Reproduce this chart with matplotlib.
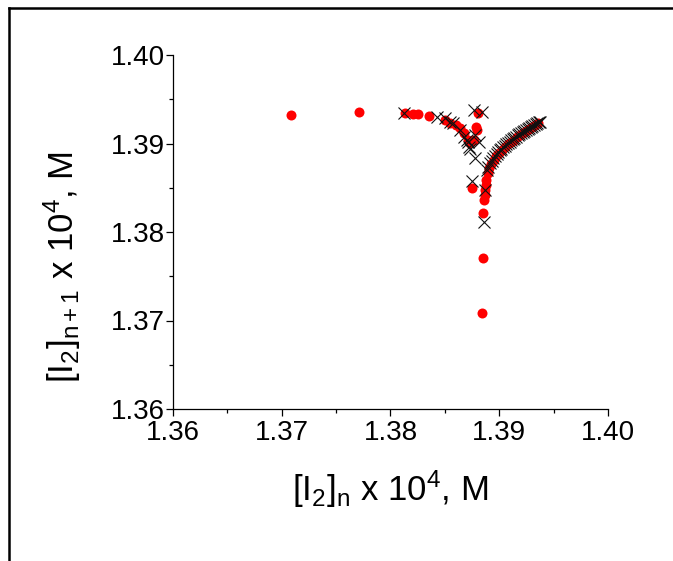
import matplotlib
matplotlib.use("Agg")
import matplotlib.pyplot as plt
from matplotlib.lines import Line2D
from matplotlib.ticker import MultipleLocator, FormatStrFormatter

plt.rcParams['font.family'] = ['Liberation Sans', 'DejaVu Sans']
plt.rcParams['mathtext.fontset'] = 'custom'
plt.rcParams['mathtext.rm'] = 'Liberation Sans'
plt.rcParams['mathtext.it'] = 'Liberation Sans'
plt.rcParams['mathtext.default'] = 'regular'

# Red series (return map points)
red_x = [1.37083, 1.37714, 1.38134, 1.38211, 1.38257, 1.38358, 1.38502, 1.38548,
         1.38603, 1.38640, 1.38680, 1.38717, 1.38732, 1.38788, 1.38809, 1.38800,
         1.38765, 1.38753, 1.38855, 1.38846, 1.38840,
         1.38862, 1.38866, 1.38870, 1.38875, 1.38880, 1.38893, 1.38907, 1.38926,
         1.38949, 1.38972, 1.38999, 1.39027, 1.39054, 1.39082, 1.39109, 1.39137,
         1.39165, 1.39192, 1.39220, 1.39247, 1.39275, 1.39303, 1.39330, 1.39358]
red_y = [1.39325, 1.39353, 1.39341, 1.39333, 1.39333, 1.39314, 1.39266, 1.39228,
         1.39209, 1.39172, 1.39115, 1.39040, 1.39002, 1.39190, 1.39341, 1.39150,
         1.39040, 1.38494, 1.38218, 1.37703, 1.37081,
         1.38362, 1.38420, 1.38475, 1.38530, 1.38588, 1.38667, 1.38723, 1.38768,
         1.38814, 1.38859, 1.38898, 1.38932, 1.38960, 1.38989, 1.39017, 1.39045,
         1.39073, 1.39096, 1.39119, 1.39141, 1.39164, 1.39186, 1.39209, 1.39232]

# Black crosses
black_x = [1.38128, 1.38426, 1.38502, 1.38549, 1.38579, 1.38641, 1.38677, 1.38703,
           1.38717, 1.38718, 1.38735, 1.38780, 1.38750, 1.38873, 1.38857, 1.38765,
           1.38842, 1.38780, 1.38811,
           1.38886, 1.38900, 1.38915, 1.38930, 1.38945, 1.38960, 1.38975, 1.38990,
           1.39005, 1.39020, 1.39035, 1.39050, 1.39065, 1.39080, 1.39095, 1.39110,
           1.39125, 1.39140, 1.39155, 1.39170, 1.39185, 1.39200, 1.39215, 1.39230,
           1.39245, 1.39260, 1.39275, 1.39290, 1.39305, 1.39320, 1.39335, 1.39350,
           1.39365, 1.39378]
black_y = [1.39341, 1.39303, 1.39285, 1.39246, 1.39228, 1.39153, 1.39077, 1.39040,
           1.39020, 1.38964, 1.38943, 1.38832, 1.38578, 1.38475, 1.38116, 1.39379,
           1.39360, 1.39096, 1.39021,
           1.38701, 1.38740, 1.38775, 1.38805, 1.38832, 1.38858, 1.38880, 1.38902,
           1.38922, 1.38941, 1.38958, 1.38975, 1.38991, 1.39006, 1.39021, 1.39036,
           1.39050, 1.39064, 1.39078, 1.39091, 1.39104, 1.39117, 1.39129, 1.39141,
           1.39153, 1.39165, 1.39176, 1.39187, 1.39198, 1.39208, 1.39218, 1.39228,
           1.39238, 1.39246]

x_ticks = [1.36, 1.37, 1.38, 1.39, 1.40]
y_ticks = [1.36, 1.37, 1.38, 1.39, 1.40]

fig = plt.figure(figsize=(6.73, 5.61), dpi=100)
ax = fig.add_axes([173/673, 1-409/561, (608-173)/673, (409-55)/561])

ax.plot(red_x, red_y, 'o', color='#ff0000', markersize=7.2, markeredgewidth=0,
        linestyle='none', zorder=2)
ax.plot(black_x, black_y, 'x', color='#111111', markersize=9, markeredgewidth=0.8,
        linestyle='none', zorder=3)

ax.set_xlim(1.36, 1.40)
ax.set_ylim(1.36, 1.40)
ax.set_xticks(x_ticks)
ax.set_yticks(y_ticks)
ax.xaxis.set_minor_locator(MultipleLocator(0.005))
ax.yaxis.set_minor_locator(MultipleLocator(0.005))
ax.xaxis.set_major_formatter(FormatStrFormatter('%.2f'))
ax.yaxis.set_major_formatter(FormatStrFormatter('%.2f'))

for s in ['top', 'right']:
    ax.spines[s].set_visible(False)
for s in ['left', 'bottom']:
    ax.spines[s].set_linewidth(0.9)
ax.tick_params(which='major', direction='out', length=5, width=0.9,
               labelsize=20)
ax.tick_params(axis='x', which='major', pad=3)
ax.tick_params(axis='y', which='major', pad=1)
ax.tick_params(which='minor', direction='out', length=3, width=0.9)

ax.set_xlabel('[I$_2$]$_n$ x 10$^4$, M', fontsize=25, labelpad=16)
ax.set_ylabel('[I$_2$]$_{n+1}$ x 10$^4$, M', fontsize=25, labelpad=20, y=0.40)

# figure frame (left and top edges)
fig.add_artist(Line2D([8.5/673, 8.5/673], [0, 1-8/561], transform=fig.transFigure,
                      color='black', linewidth=1.8))
fig.add_artist(Line2D([8.5/673, 1], [1-8/561, 1-8/561], transform=fig.transFigure,
                      color='black', linewidth=1.8))

fig.savefig('out.png', dpi=100)
